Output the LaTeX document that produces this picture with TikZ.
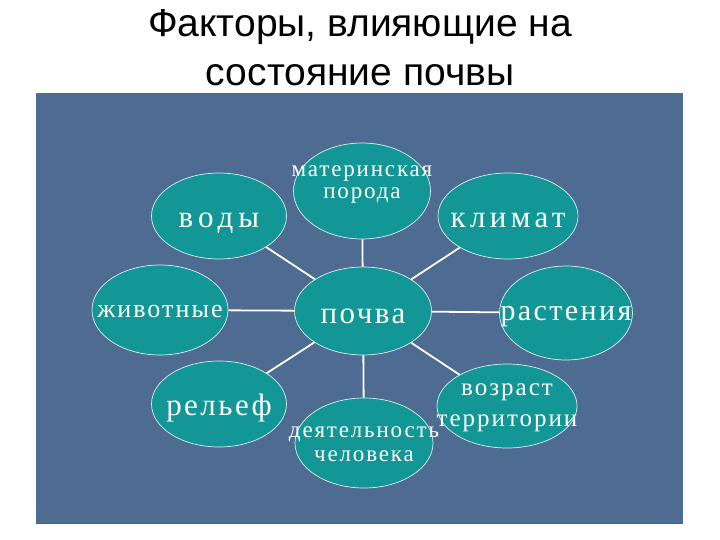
\documentclass[tikz,border=0pt]{standalone}
\usepackage{fontspec}
\setmainfont{Liberation Serif}
\newfontfamily\titlefont{Liberation Sans}
\newfontfamily\ovalfont[LetterSpace=8]{Liberation Serif}
\usetikzlibrary{shapes.geometric}

\definecolor{slideblue}{RGB}{78,108,146}
\definecolor{slideedge}{RGB}{70,96,130}
\definecolor{ovalteal}{RGB}{18,150,150}

% text of an oval, kept out of the oval's size; #1 = raise of the first baseline
\newcommand{\ovaltext}[2][-12pt]{\raisebox{#1}[0pt][0pt]{\makebox[0pt]{\begin{tabular}[t]{@{}c@{}}#2\end{tabular}}}}

\tikzset{
  factor/.style={ellipse, fill=ovalteal, draw=white!85!ovalteal, line width=0.7pt,
    text=white, inner sep=0pt, font=\ovalfont\fontsize{31}{31}\selectfont},
  twoline/.style={font=\ovalfont\fontsize{23}{23}\selectfont},
  link/.style={draw=white, line width=1.8pt}
}

\begin{document}
\begin{tikzpicture}[x=1pt, y=-1pt]
  \useasboundingbox (0,0) rectangle (720,540);

  % title
  \node[anchor=base, font=\titlefont\fontsize{39}{39}\selectfont] (title1) at (360,37) {Факторы, влияющие на};
  \node[anchor=base, font=\titlefont\fontsize{39}{39}\selectfont] (title2) at (360,86) {состояние почвы};

  % slide
  \fill[slideblue] (36,93) rectangle (683,524);
  \draw[slideedge, line width=1pt] (36,523.5) -- (683,523.5);

  % factors
  \node[factor, minimum width=137pt, minimum height=88pt] (soil) at (363,311) {\ovaltext{почва}};
  \node[factor, twoline, minimum width=137pt, minimum height=96pt] (rock) at (362,191) {\ovaltext[14pt]{материнская\\[-1pt]порода}};
  \node[factor, minimum width=135pt, minimum height=86pt] (water) at (219,216) {\ovaltext{\addfontfeature{LetterSpace=16}воды}};
  \node[factor, minimum width=140pt, minimum height=86pt] (climate) at (508,216) {\ovaltext{\addfontfeature{LetterSpace=14}климат}};
  \node[factor, font=\ovalfont\fontsize{26}{26}\selectfont, minimum width=136pt, minimum height=90pt] (animals) at (160,310) {\ovaltext[-7pt]{животные}};
  \node[factor, font=\ovalfont\fontsize{30}{30}\selectfont, minimum width=133pt, minimum height=94pt] (plants) at (566,313) {\ovaltext[-7pt]{растения}};
  \node[factor, minimum width=135pt, minimum height=86pt] (relief) at (219,404) {\ovaltext[-11pt]{рельеф}};
  \node[factor, font=\ovalfont\fontsize{25}{31}\selectfont, minimum width=140pt, minimum height=84pt] (age) at (507,406) {\ovaltext[11pt]{возраст\\территории}};
  \node[factor, font=\ovalfont\fontsize{23}{24}\selectfont, minimum width=138pt, minimum height=90pt] (people) at (364,443) {\ovaltext[6pt]{деятельность\\человека}};

  % connectors
  \foreach \f in {rock, water, climate, animals, plants, relief, age, people}
    \draw[link] (soil) -- (\f);

\end{tikzpicture}
\end{document}
